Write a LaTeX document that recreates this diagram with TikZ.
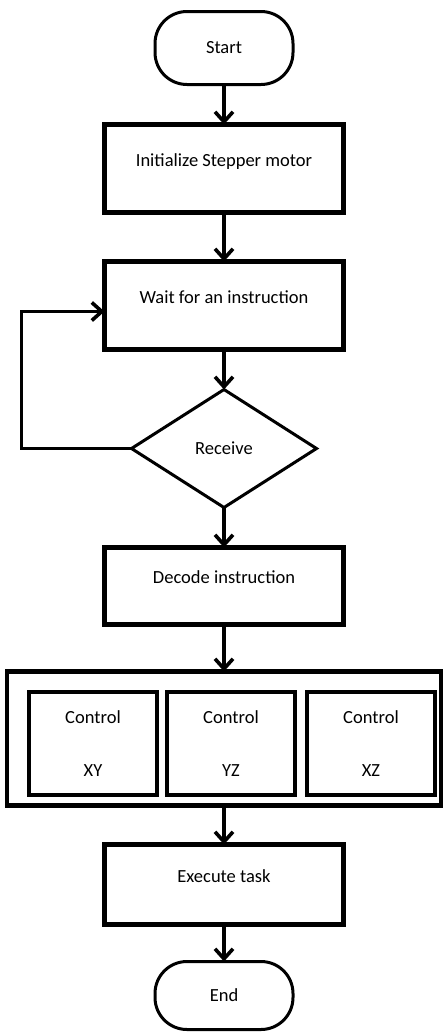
\documentclass[tikz,border=0pt]{standalone}
\usepackage{fontspec}
\setmainfont{Carlito}
\usepackage{tikz}
\usetikzlibrary{shapes,arrows.meta,positioning,calc}
\tikzstyle{procbox}=[rectangle, draw, line width=2.2pt, outer sep=0pt, minimum width=119.5pt,
  text height=6.5pt, text depth=9pt, font=\fontsize{9.25}{11}\selectfont]
\tikzstyle{termbox}=[rectangle, draw, rounded corners=16pt, line width=1.5pt, outer sep=0pt,
  minimum width=69pt, font=\fontsize{9.25}{11}\selectfont]
\tikzstyle{ctlbox}=[rectangle, draw, line width=2.2pt, outer sep=0pt, minimum width=64pt,
  minimum height=51.5pt, align=center, font=\fontsize{9.25}{11}\selectfont]
\tikzstyle{flow}=[line width=1.8pt, -{Straight Barb[length=5pt,width=9pt]}]

\begin{document}
\begin{tikzpicture}
  \useasboundingbox (0,0) rectangle (223pt,-517pt);
  % start and the first steps
  \node[termbox, minimum height=36.5pt] (start) at (112pt,-24pt) {Start};
  \node[procbox, minimum height=44pt, below=20pt of start] (init) {Initialize Stepper motor};
  \node[procbox, minimum height=44pt, below=24.5pt of init] (wait) {Wait for an instruction};
  \node[diamond, draw, line width=1.5pt, outer sep=0pt, aspect=1.57, inner sep=0pt,
    minimum width=92.5pt, minimum height=59pt, font=\fontsize{9.25}{11}\selectfont,
    below=20pt of wait] (receive) {Receive};
  \node[procbox, minimum height=38.5pt, below=20pt of receive] (decode) {Decode instruction};
  % control block
  \node[rectangle, draw, line width=2.2pt, outer sep=0pt, minimum width=217pt,
    minimum height=67pt, below=23.5pt of decode] (ctlgroup) {};
  \node[ctlbox, xshift=3.5pt, yshift=-2.5pt] (ctlyz) at (ctlgroup) {Control\\[15.5pt]YZ};
  \node[ctlbox, left=5pt of ctlyz] (ctlxy) {Control\\[15.5pt]XY};
  \node[ctlbox, right=6pt of ctlyz] (ctlxz) {Control\\[15.5pt]XZ};
  % end
  \node[procbox, minimum height=40pt, below=19.5pt of ctlgroup] (exec) {Execute task};
  \node[termbox, minimum height=34pt, below=18.5pt of exec] (finish) {End};
  % lines
  \draw[flow] (start) -- (init);
  \draw[flow] (init) -- (wait);
  \draw[flow] (wait) -- (receive);
  \draw[flow] (receive.west) -- ++(-55pt,0) |- ([yshift=-3pt]wait.west);
  \draw[flow] (receive) -- (decode);
  \draw[flow] (decode) -- (ctlgroup);
  \draw[flow] (ctlgroup) -- (exec);
  \draw[flow] (exec) -- (finish);
\end{tikzpicture}
\end{document}
